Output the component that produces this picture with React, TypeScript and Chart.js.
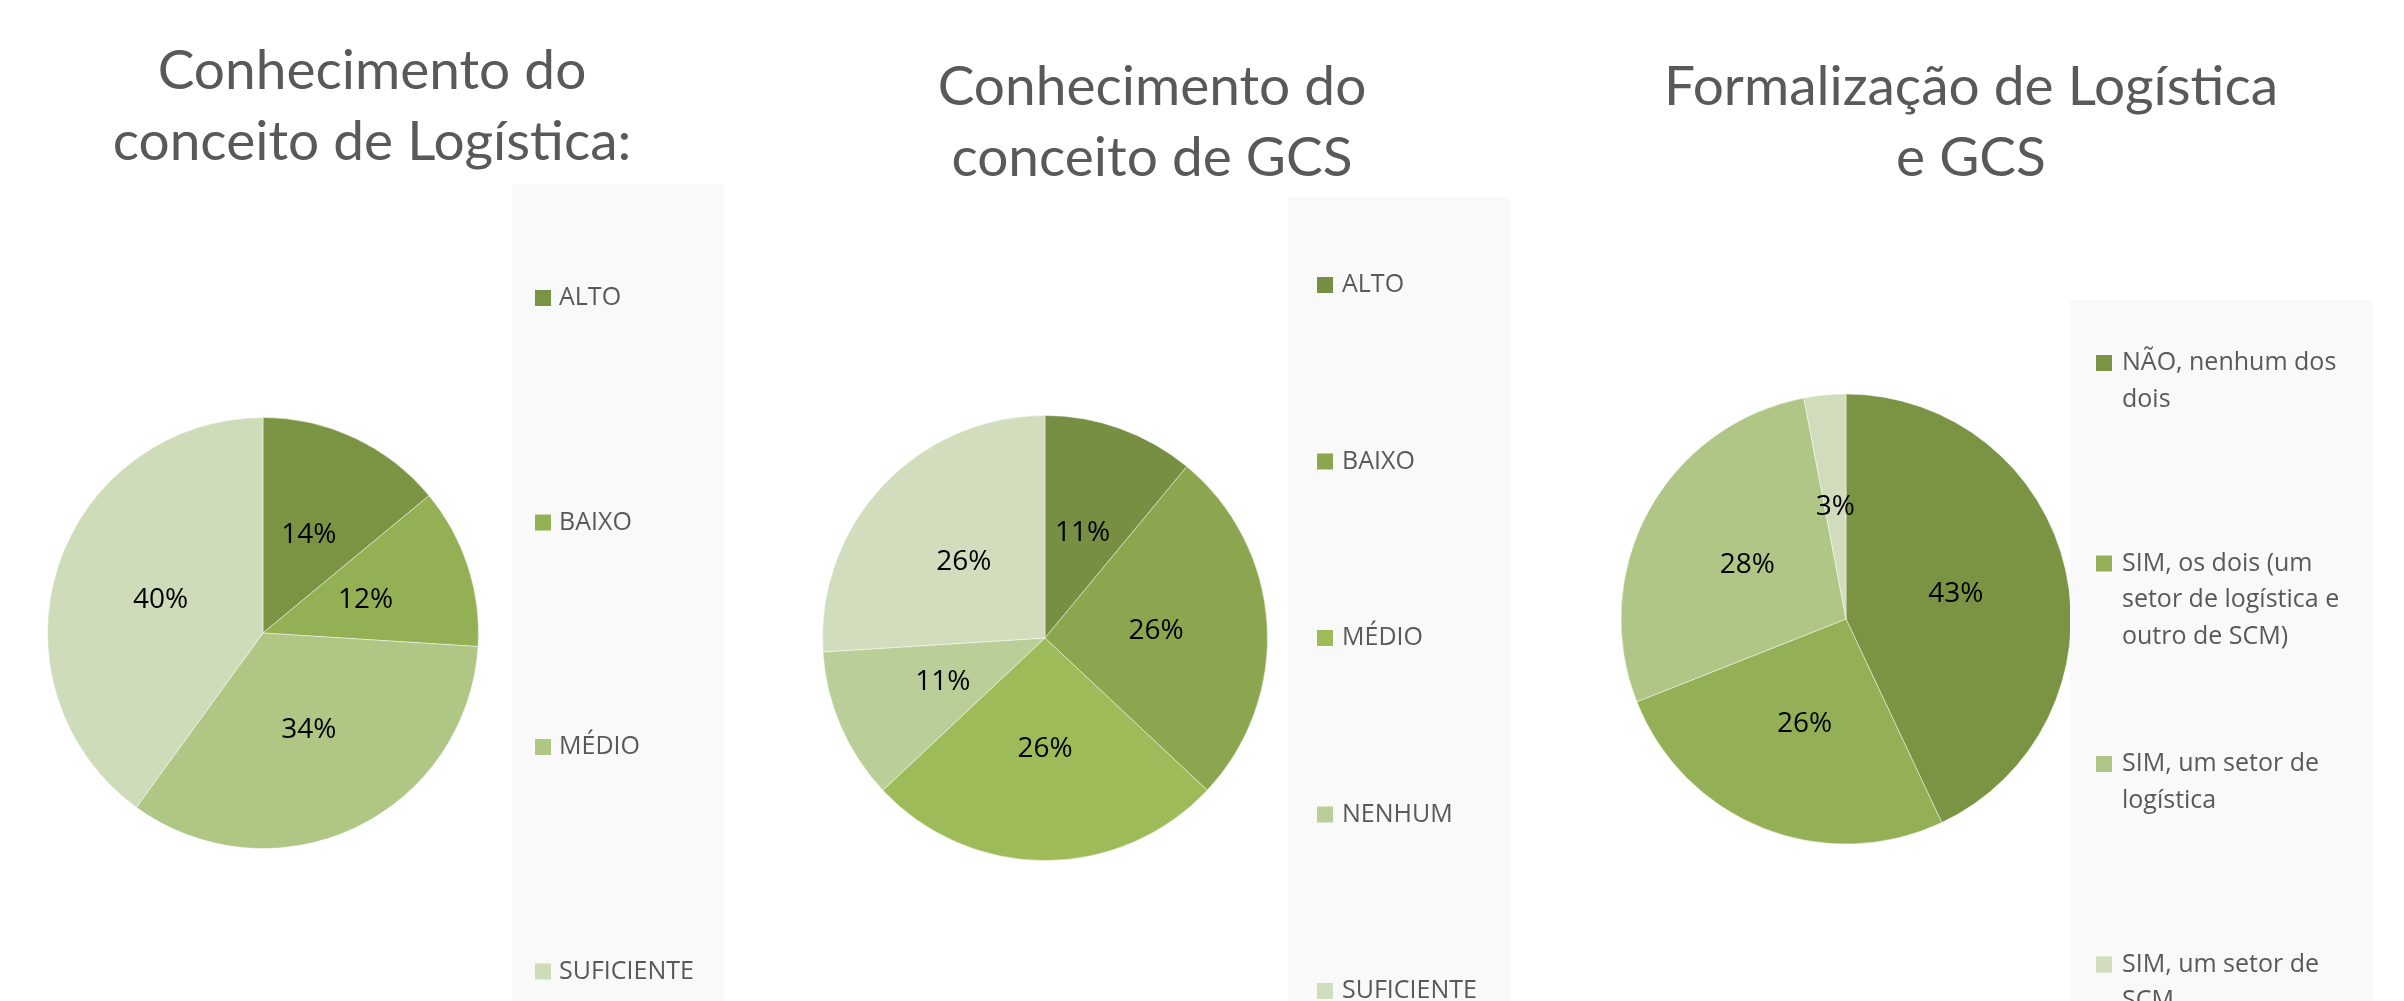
import React, { useEffect, useRef } from "react";
import { Chart, registerables } from "chart.js";

Chart.register(...registerables);

// ---------- data ----------
const title1 = ["Conhecimento do", "conceito de Logística:"];
const labels1 = ["ALTO", "BAIXO", "MÉDIO", "SUFICIENTE"];
const values1 = [14, 12, 34, 40];
const colors1 = ["#7a9443", "#93b055", "#afc685", "#cfdcb9"];

const title2 = ["Conhecimento do", "conceito de GCS"];
const labels2 = ["ALTO", "BAIXO", "MÉDIO", "NENHUM", "SUFICIENTE"];
const values2 = [11, 26, 26, 11, 26];
const colors2 = ["#768f42", "#8ba64f", "#9dbb58", "#bacf98", "#d1ddbd"];

const title3 = ["Formalização de Logística", "e GCS"];
const labels3 = [
  "NÃO, nenhum dos dois",
  "SIM, os dois (um setor de logística e outro de SCM)",
  "SIM, um setor de logística",
  "SIM, um setor de SCM",
];
const values3 = [43, 26, 28, 3];
const colors3 = ["#7a9444", "#93b056", "#afc686", "#d0dcbb"];

// ---------- plugins ----------
const pctLabels = {
  id: "pctLabels",
  afterDatasetsDraw(chart: any) {
    const ctx = chart.ctx;
    const meta = chart.getDatasetMeta(0);
    const data = chart.data.datasets[0].data;
    ctx.save();
    ctx.font = '28px "Open Sans"';
    ctx.fillStyle = "#000000";
    ctx.textAlign = "center";
    ctx.textBaseline = "middle";
    meta.data.forEach((arc: any, i: number) => {
      const p = arc.tooltipPosition(false);
      ctx.fillText(data[i] + "%", p.x, p.y);
    });
    ctx.restore();
  },
};

const centeredTitle = {
  id: "centeredTitle",
  afterDraw(chart: any, _args: any, opts: any) {
    const ctx = chart.ctx;
    ctx.save();
    ctx.font = '55px "Lato"';
    ctx.fillStyle = "#595959";
    ctx.textAlign = "center";
    ctx.textBaseline = "alphabetic";
    (opts.text as string[]).forEach((ln, i) => ctx.fillText(ln, opts.x, opts.baseline + i * opts.lineHeight));
    ctx.restore();
  },
};

function wrap(ctx: CanvasRenderingContext2D, text: string, maxW: number) {
  const words = text.split(" ");
  const lines: string[] = [];
  let cur = "";
  for (const w of words) {
    const t = cur ? cur + " " + w : w;
    if (cur && ctx.measureText(t).width > maxW) {
      lines.push(cur);
      cur = w;
    } else cur = t;
  }
  if (cur) lines.push(cur);
  return lines;
}

const sideLegend = {
  id: "sideLegend",
  afterDraw(chart: any, _args: any, opts: any) {
    const ctx = chart.ctx;
    ctx.save();
    ctx.fillStyle = "#f9f9f9";
    ctx.fillRect(opts.boxLeft, opts.boxTop, opts.boxRight - opts.boxLeft, chart.height - opts.boxTop);
    ctx.font = '25px "Open Sans"';
    ctx.textBaseline = "middle";
    ctx.textAlign = "left";
    const ds = chart.data.datasets[0];
    chart.data.labels.forEach((lab: string, i: number) => {
      const cy = opts.firstY + i * opts.spacing;
      ctx.fillStyle = ds.backgroundColor[i];
      ctx.fillRect(opts.squareX, cy - 8, 16, 16);
      ctx.fillStyle = "#595959";
      const lines = wrap(ctx, lab, opts.maxWidth);
      lines.forEach((ln, j) => ctx.fillText(ln, opts.textX, cy + j * opts.lineHeight));
    });
    ctx.restore();
  },
};

type PieProps = {
  left: number;
  width: number;
  title: string[];
  labels: string[];
  values: number[];
  colors: string[];
  pad: { left: number; right: number; top: number; bottom: number };
  titleOpts: { x: number; baseline: number; lineHeight: number };
  legend: any;
};

function PieChart(p: PieProps) {
  const ref = useRef<HTMLCanvasElement>(null);
  useEffect(() => {
    if (!ref.current) return;
    const chart = new Chart(ref.current, {
      type: "pie",
      data: {
        labels: p.labels,
        datasets: [
          {
            data: p.values,
            backgroundColor: p.colors,
            borderColor: "rgba(255,255,255,0.45)",
            borderWidth: 1,
          },
        ],
      },
      options: {
        animation: false,
        responsive: true,
        maintainAspectRatio: false,
        devicePixelRatio: 1,
        layout: { padding: p.pad },
        plugins: {
          legend: { display: false },
          tooltip: { enabled: false },
          title: { display: false },
          centeredTitle: { text: p.title, ...p.titleOpts },
          sideLegend: p.legend,
        } as any,
      },
      plugins: [pctLabels, sideLegend, centeredTitle],
    });
    return () => chart.destroy();
  }, []);
  return (
    <div style={{ position: "absolute", left: p.left, top: 0, width: p.width, height: 1001 }}>
      <canvas ref={ref} />
    </div>
  );
}

export default function App() {
  return (
    <div
      style={{
        position: "fixed",
        left: 0,
        top: 0,
        width: 2404,
        height: 1001,
        background: "#ffffff",
        overflow: "hidden",
      }}
    >
      <PieChart
        left={0}
        width={760}
        title={title1}
        labels={labels1}
        values={values1}
        colors={colors1}
        pad={{ left: 46, right: 280, top: 417, bottom: 152 }}
        titleOpts={{ x: 372, baseline: 89, lineHeight: 71 }}
        legend={{ boxLeft: 512, boxRight: 724, boxTop: 184, squareX: 535, textX: 559, firstY: 298, spacing: 224.5, lineHeight: 36.5, maxWidth: 200 }}
      />
      <PieChart
        left={780}
        width={760}
        title={title2}
        labels={labels2}
        values={values2}
        colors={colors2}
        pad={{ left: 42, right: 272, top: 415, bottom: 140 }}
        titleOpts={{ x: 372, baseline: 105, lineHeight: 71 }}
        legend={{ boxLeft: 508, boxRight: 730, boxTop: 197, squareX: 537, textX: 562, firstY: 285, spacing: 176.5, lineHeight: 36.5, maxWidth: 200 }}
      />
      <PieChart
        left={1560}
        width={844}
        title={title3}
        labels={labels3}
        values={values3}
        colors={colors3}
        pad={{ left: 60.5, right: 332.5, top: 393.5, bottom: 156.5 }}
        titleOpts={{ x: 411, baseline: 105, lineHeight: 71 }}
        legend={{ boxLeft: 510, boxRight: 813, boxTop: 300, squareX: 536, textX: 562, firstY: 363, spacing: 200.5, lineHeight: 36.5, maxWidth: 240 }}
      />
    </div>
  );
}
